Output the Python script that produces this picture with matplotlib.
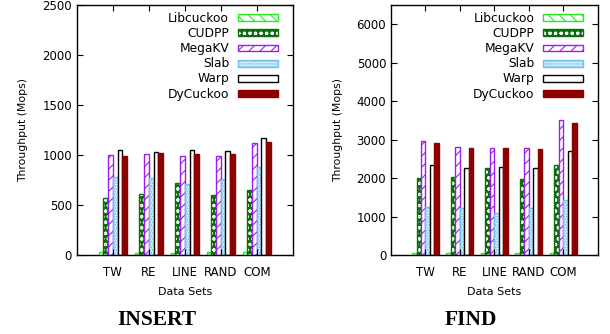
import matplotlib
matplotlib.use("Agg")
import matplotlib.pyplot as plt
import numpy as np

datasets = ["TW", "RE", "LINE", "RAND", "COM"]
methods = ["Libcuckoo", "CUDPP", "MegaKV", "Slab", "Warp", "DyCuckoo"]

# insert throughput (Mops), one list per method
insert_libcuckoo = [30, 20, 20, 30, 35]
insert_cudpp = [570, 610, 720, 595, 650]
insert_megakv = [1000, 1010, 990, 990, 1120]
insert_slab = [780, 770, 705, 760, 880]
insert_warp = [1050, 1030, 1045, 1040, 1170]
insert_dycuckoo = [990, 1020, 1010, 1010, 1130]

# find throughput (Mops)
find_libcuckoo = [50, 50, 50, 50, 50]
find_cudpp = [2000, 2025, 2260, 1975, 2330]
find_megakv = [2950, 2805, 2780, 2780, 3520]
find_slab = [1250, 1230, 1090, 1230, 1435]
find_warp = [2330, 2270, 2275, 2270, 2710]
find_dycuckoo = [2920, 2790, 2770, 2760, 3435]

insert_data = [insert_libcuckoo, insert_cudpp, insert_megakv,
               insert_slab, insert_warp, insert_dycuckoo]
find_data = [find_libcuckoo, find_cudpp, find_megakv,
             find_slab, find_warp, find_dycuckoo]

# (facecolor, hatch colour, hatch, outline colour)
styles = [
    ("white", "#22ee22", "\\\\\\", "#22ee22"),
    ("#0a6e0a", "white", "ooo", "#0a6e0a"),
    ("white", "#9b1fe8", "///", "#9b1fe8"),
    ("#d2ecfa", "#6fbfec", "......", "#6fbfec"),
    ("white", "white", None, "black"),
    ("#8b0000", "#8b0000", None, "#8b0000"),
]

plt.rcParams["hatch.linewidth"] = 0.8


def draw_panel(ax, data, ymax, yticks):
    x = np.arange(len(datasets))
    width = 0.13
    handles = []
    for j, vals in enumerate(data):
        fc, hc, hatch, oc = styles[j]
        offset = (j - 2.5) * width
        fill = ax.bar(x + offset, vals, width, facecolor=fc, edgecolor=hc,
                      hatch=hatch, linewidth=0)
        edge = ax.bar(x + offset, vals, width, facecolor="none",
                      edgecolor=oc, linewidth=1.0)
        handles.append((fill[0], edge[0]))
    ax.set_xlim(-1, 5)
    ax.set_ylim(0, ymax)
    ax.set_yticks(yticks)
    ax.set_xticks(x)
    ax.set_xticklabels(datasets)
    ax.tick_params(axis="both", direction="in", labelsize=8.5,
                   top=True, right=True, length=4, width=0.8)
    ax.tick_params(axis="x", pad=8)
    for sp in ax.spines.values():
        sp.set_linewidth(1.0)
    ax.set_ylabel("Throughput (Mops)", fontsize=7.8, labelpad=10)
    ax.set_xlabel("Data Sets", fontsize=8, labelpad=6)
    ax.legend(handles, methods, loc="upper right",
              bbox_to_anchor=(0.965, 1.0), frameon=False,
              fontsize=8.8, markerfirst=False, handlelength=3.3,
              handleheight=0.5, labelspacing=0.17, borderaxespad=0.3,
              borderpad=0.3, handletextpad=0.7)


fig = plt.figure(figsize=(6.1, 3.34), dpi=100)
ax1 = fig.add_axes([0.126, 0.2365, 0.354, 0.749])
ax2 = fig.add_axes([0.641, 0.2365, 0.339, 0.749])

draw_panel(ax1, insert_data, 2500, [0, 500, 1000, 1500, 2000, 2500])
draw_panel(ax2, find_data, 6500, [0, 1000, 2000, 3000, 4000, 5000, 6000])

for xpos, title in [(0.257, "INSERT"), (0.772, "FIND")]:
    fig.text(xpos, 0.042, title, ha="center", va="center", fontsize=15.5,
             fontweight="bold", family="Liberation Serif")

fig.savefig("out.png", dpi=100)
